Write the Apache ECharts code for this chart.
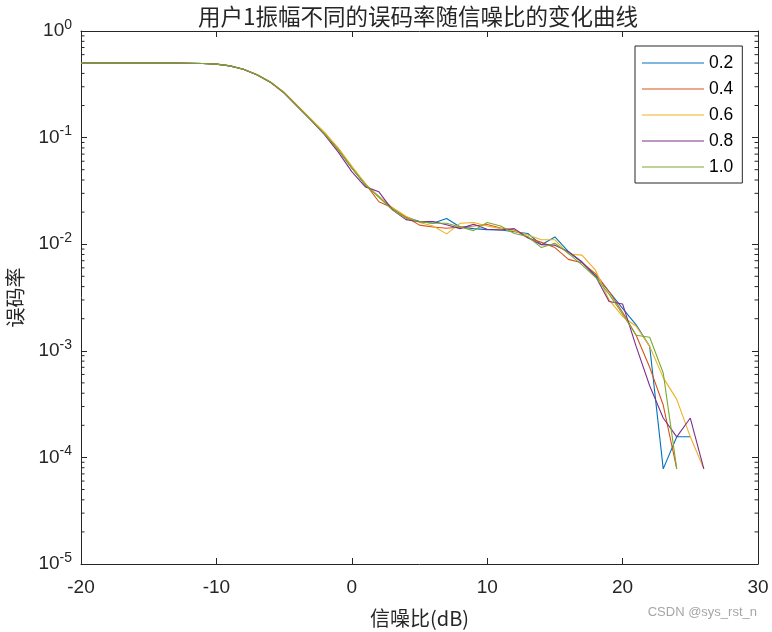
<!DOCTYPE html>
<html>
<head>
<meta charset="utf-8">
<script src="https://cdn.jsdelivr.net/npm/echarts@6/dist/echarts.min.js"></script>
<style>
html,body{margin:0;padding:0;background:#fff;}
#c{width:772px;height:632px;}
</style>
</head>
<body>
<div id="c"></div>
<script>
// SNR (dB) from -20 to 26, step 1
var snr = [-20,-19,-18,-17,-16,-15,-14,-13,-12,-11,-10,-9,-8,-7,-6,-5,-4,-3,-2,-1,0,
  1,2,3,4,5,6,7,8,9,10,11,12,13,14,15,16,17,18,19,20,21,22,23,24,25,26];

var legendNames = ['0.2','0.4','0.6','0.8','1.0'];

var ber02 = [0.5,0.5,0.5,0.5,0.5,0.5,0.5,0.5,0.499,0.496,0.489,0.471,0.437,0.389,0.331,0.264,0.196,0.146,0.108,0.077,0.052,
  0.036,0.028,0.0215,0.018,0.0163,0.0157,0.0174,0.0145,0.014,0.0137,0.0136,0.0131,0.0126,0.0099,0.0117,0.0085,0.0068,0.0051,0.0036,0.0025,0.00175,0.0011,7.8e-5,1.56e-4,1.56e-4,null];
var ber04 = [0.5,0.5,0.5,0.5,0.5,0.5,0.5,0.5,0.499,0.496,0.489,0.471,0.436,0.387,0.328,0.262,0.194,0.146,0.108,0.077,0.052,
  0.037,0.025,0.022,0.018,0.0151,0.0145,0.0141,0.0145,0.0148,0.0153,0.0142,0.0136,0.0115,0.0104,0.0093,0.0072,0.0067,0.0053,0.0036,0.0023,0.0014,0.0007,0.00031,7.8e-5,null,null];
var ber06 = [0.5,0.5,0.5,0.5,0.5,0.5,0.5,0.5,0.499,0.496,0.489,0.472,0.438,0.39,0.333,0.267,0.199,0.149,0.112,0.08,0.054,
  0.037,0.028,0.022,0.0183,0.016,0.0148,0.0125,0.0157,0.016,0.0148,0.014,0.0133,0.0122,0.011,0.011,0.0081,0.0079,0.0057,0.003,0.0021,0.0017,0.0011,0.00056,0.00035,1.56e-4,7.8e-5];
var ber08 = [0.5,0.5,0.5,0.5,0.5,0.5,0.5,0.5,0.499,0.496,0.489,0.471,0.437,0.389,0.331,0.263,0.195,0.145,0.106,0.073,0.048,
  0.0345,0.031,0.021,0.017,0.0163,0.0163,0.0152,0.014,0.0154,0.0138,0.0136,0.014,0.0115,0.0099,0.0098,0.0085,0.0068,0.005,0.0029,0.00275,0.0011,0.00047,2.34e-4,1.56e-4,2.34e-4,7.8e-5];
var ber10 = [0.5,0.5,0.5,0.5,0.5,0.5,0.5,0.5,0.499,0.496,0.489,0.471,0.437,0.389,0.331,0.264,0.196,0.146,0.108,0.077,0.052,
  0.036,0.0275,0.021,0.0175,0.0163,0.0157,0.0157,0.0145,0.0134,0.016,0.0148,0.0126,0.0118,0.0093,0.0102,0.0082,0.0064,0.0049,0.0034,0.0022,0.0014,0.00134,0.00062,7.8e-5,null,null];

var seriesValues = [ber02, ber04, ber06, ber08, ber10];
var colors = ['#0072BD','#D95319','#EDB120','#7E2F8E','#77AC30'];

var xTicks = {min:-20, max:30, interval:10};
var yRange = {min:1e-5, max:1};

function pairs(vals){
  var out = [];
  for (var i=0;i<snr.length;i++){ if (vals[i] != null) out.push([snr[i], vals[i]]); }
  return out;
}

var axisColor = '#262626';
var tickFont = 'Liberation Sans, Arial, Helvetica, sans-serif';
var cjkFont = '"Noto Sans CJK SC", sans-serif';

var chart = echarts.init(document.getElementById('c'), null, {renderer:'canvas'});

var option = {
  animation: false,
  backgroundColor: '#fff',
  title: {
    text: '用户1振幅不同的误码率随信噪比的变化曲线',
    left: 413, top: 0, textAlign: 'center',
    textStyle: {fontFamily: cjkFont, fontSize: 22.5, fontWeight: 'normal', color: '#262626'}
  },
  grid: {left: 81, right: 14, top: 31, bottom: 68, containLabel: false, outerBoundsMode: 'none'},
  legend: {
    orient: 'vertical', left: 635, top: 46,
    data: legendNames,
    icon: 'rect', itemWidth: 62, itemHeight: 1, itemGap: 8,
    borderColor: axisColor, borderWidth: 1, borderRadius: 0,
    padding: [8, 9, 7, 7],
    backgroundColor: '#fff',
    textStyle: {fontFamily: tickFont, fontSize: 17.5, color: '#000', lineHeight: 17}
  },
  xAxis: [{
    type: 'value', min: xTicks.min, max: xTicks.max, interval: xTicks.interval,
    position: 'bottom',
    name: '信噪比(dB)', nameLocation: 'middle', nameGap: 44, nameMoveOverlap: false,
    nameTextStyle: {fontFamily: cjkFont, fontSize: 20, color: '#262626'},
    axisLine: {show: true, onZero: false, lineStyle: {color: axisColor, width: 1}},
    axisTick: {show: true, inside: true, length: 6, lineStyle: {color: axisColor}},
    axisLabel: {fontFamily: tickFont, fontSize: 19, color: axisColor, margin: 14},
    splitLine: {show: false}
  },{
    type: 'value', min: xTicks.min, max: xTicks.max, interval: xTicks.interval,
    position: 'top',
    axisLine: {show: true, onZero: false, lineStyle: {color: axisColor, width: 1}},
    axisTick: {show: true, inside: true, length: 6, lineStyle: {color: axisColor}},
    axisLabel: {show: false},
    splitLine: {show: false}
  }],
  yAxis: [{
    type: 'log', logBase: 10, min: yRange.min, max: yRange.max,
    position: 'left',
    name: '误码率', nameLocation: 'middle', nameGap: 56, nameRotate: 90, nameMoveOverlap: false,
    nameTextStyle: {fontFamily: cjkFont, fontSize: 20, color: '#262626'},
    axisLine: {show: true, onZero: false, lineStyle: {color: axisColor, width: 1}},
    axisTick: {show: true, inside: true, length: 6, lineStyle: {color: axisColor}},
    axisLabel: {
      margin: 9,
      formatter: function(v){
        var e = Math.round(Math.log10(v));
        return '{b|10}{s|' + e + '}';
      },
      rich: {
        b: {fontFamily: tickFont, fontSize: 19, color: axisColor},
        s: {fontFamily: tickFont, fontSize: 14, color: axisColor, padding: [0,0,12,0]}
      }
    },
    splitLine: {show: false}
  },{
    type: 'log', logBase: 10, min: yRange.min, max: yRange.max,
    position: 'right',
    axisLine: {show: true, onZero: false, lineStyle: {color: axisColor, width: 1}},
    axisTick: {show: true, inside: true, length: 6, lineStyle: {color: axisColor}},
    axisLabel: {show: false},
    splitLine: {show: false}
  }],
  series: legendNames.map(function(n, i){
    return {
      name: n, type: 'line', xAxisIndex: 0, yAxisIndex: 0,
      data: pairs(seriesValues[i]),
      showSymbol: false, symbol: 'none',
      color: colors[i],
      lineStyle: {width: 1.1, color: colors[i]},
      z: 2 + i
    };
  })
};
chart.setOption(option);

// MATLAB-style minor ticks on log axis (positions via the axis scale)
var minorEls = [];
var xl = chart.convertToPixel({xAxisIndex:0}, xTicks.min);
var xr = chart.convertToPixel({xAxisIndex:0}, xTicks.max);
for (var d=-5; d<0; d++){
  for (var m=2; m<=9; m++){
    var y = chart.convertToPixel({yAxisIndex:0}, m*Math.pow(10,d));
    minorEls.push({type:'line', shape:{x1:xl, y1:y, x2:xl+3.5, y2:y}, style:{stroke:axisColor, lineWidth:1}, silent:true});
    minorEls.push({type:'line', shape:{x1:xr-3.5, y1:y, x2:xr, y2:y}, style:{stroke:axisColor, lineWidth:1}, silent:true});
  }
}
minorEls.push({type:'text', right: 15, top: 606, style:{text:'CSDN @sys_rst_n', fill:'#a6a6a6', font:'13px ' + tickFont}, silent:true});
chart.setOption({graphic: minorEls});
</script>
</body>
</html>
